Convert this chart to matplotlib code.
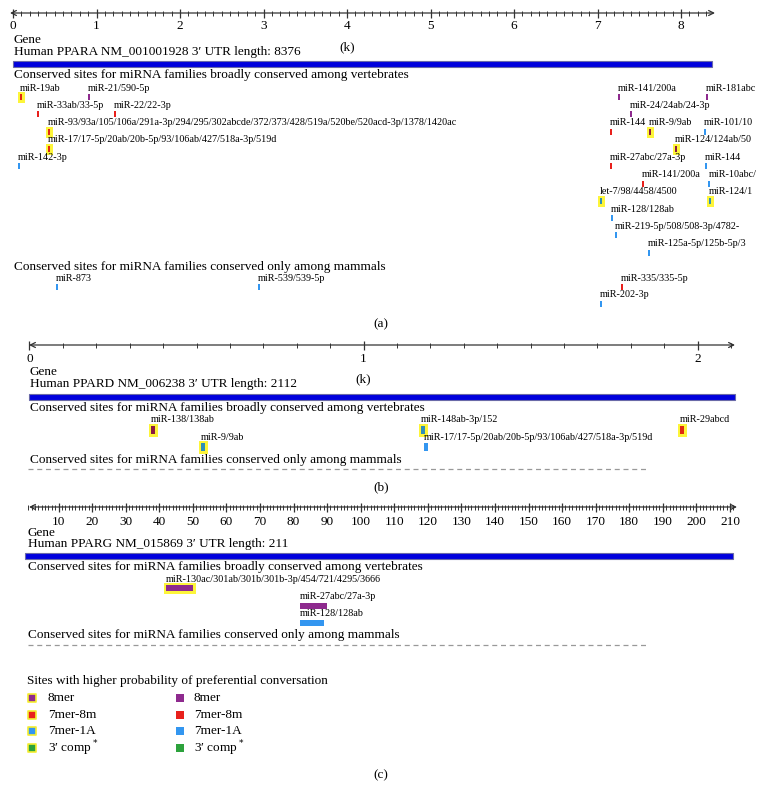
import matplotlib.pyplot as plt
import numpy as np

plt.rcParams['font.family'] = ['Liberation Serif', 'DejaVu Serif']

W, H = 763, 789

# site type colours (plain / inside the yellow "higher probability" box)
type_colors = {'8mer': '#8e2a8e', '7mer-8m': '#e8201c', '7mer-1A': '#3396f0', "3' comp": '#2ca23c'}
hi_colors = {'8mer': '#8b1a40', '7mer-8m': '#e02a10', '7mer-1A': '#2f8fb8', "3' comp": '#2ca23c'}

# ---- (a) PPARA, site positions in kb ----
a_names = ['miR-19ab', 'miR-21/590-5p', 'miR-33ab/33-5p', 'miR-22/22-3p',
           'miR-93/93a/105/106a/291a-3p/294/295/302abcde/372/373/428/519a/520be/520acd-3p/1378/1420ac',
           'miR-17/17-5p/20ab/20b-5p/93/106ab/427/518a-3p/519d', 'miR-142-3p',
           'miR-141/200a', 'miR-181abc', 'miR-24/24ab/24-3p', 'miR-144', 'miR-9/9ab', 'miR-101/10',
           'miR-124/124ab/50', 'miR-27abc/27a-3p', 'miR-144', 'miR-141/200a', 'miR-10abc/',
           'let-7/98/4458/4500', 'miR-124/1', 'miR-128/128ab', 'miR-219-5p/508/508-3p/4782-',
           'miR-125a-5p/125b-5p/3']
a_pos = [0.10, 0.91, 0.30, 1.22, 0.43, 0.43, 0.07,
         7.26, 8.31, 7.40, 7.16, 7.63, 8.29, 7.94, 7.16, 8.30, 7.54, 8.34,
         7.04, 8.35, 7.17, 7.22, 7.62]
a_row = [0, 0, 1, 1, 2, 3, 4,
         0, 0, 1, 2, 2, 2, 3, 4, 4, 5, 5, 6, 6, 7, 8, 9]
a_type = ['7mer-8m', '8mer', '7mer-8m', '7mer-8m', '7mer-8m', '7mer-8m', '7mer-1A',
          '8mer', '8mer', '8mer', '7mer-8m', '8mer', '7mer-1A', '8mer', '7mer-8m', '7mer-1A',
          '7mer-8m', '7mer-1A', '7mer-1A', '7mer-1A', '7mer-1A', '7mer-1A', '7mer-1A']
a_high = [1, 0, 0, 0, 1, 1, 0,
          0, 0, 0, 0, 1, 0, 1, 0, 0, 0, 0, 1, 1, 0, 0, 0]

a_mam_names = ['miR-873', 'miR-539/539-5p', 'miR-335/335-5p', 'miR-202-3p']
a_mam_pos = [0.53, 2.95, 7.29, 7.04]
a_mam_row = [0, 0, 0, 1]
a_mam_type = ['7mer-1A', '7mer-1A', '7mer-8m', '7mer-1A']
a_mam_high = [0, 0, 0, 0]

# ---- (b) PPARD, kb ----
b_names = ['miR-138/138ab', 'miR-9/9ab', 'miR-148ab-3p/152',
           'miR-17/17-5p/20ab/20b-5p/93/106ab/427/518a-3p/519d', 'miR-29abcd']
b_pos = [0.370, 0.519, 1.178, 1.187, 1.954]
b_row = [0, 1, 0, 1, 0]
b_type = ['8mer', '7mer-1A', '7mer-1A', '7mer-1A', '7mer-8m']
b_high = [1, 1, 1, 0, 1]

# ---- (c) PPARG, nt ----
c_names = ['miR-130ac/301ab/301b/301b-3p/454/721/4295/3666', 'miR-27abc/27a-3p', 'miR-128/128ab']
c_start = [42, 82, 82]
c_end = [50, 90, 89]
c_row = [0, 1, 2]
c_type = ['8mer', '8mer', '7mer-1A']
c_high = [1, 0, 0]

legend_types = ['8mer', '7mer-8m', '7mer-1A', "3' comp"]
legend_labels = ['8mer', '7mer-8m', '7mer-1A', '3\u2032 comp$^*$']

fig = plt.figure(figsize=(W / 100, H / 100), dpi=100)
page = fig.add_axes([0, 0, 1, 1])
page.set_xlim(0, W)
page.set_ylim(H, 0)
page.axis('off')

BIG = 9.5
SMALL = 7.3


def panel_axes(x0, ppu):
    ax = fig.add_axes([0, 0, 1, 1])
    ax.set_xlim(-x0 / ppu, (W - x0) / ppu)
    ax.set_ylim(H, 0)
    ax.axis('off')
    ax.patch.set_alpha(0)
    return ax


def ruler(ax, x0, ppu, y, left_px, right_px, minor, major, labels, lab_y):
    ax.annotate('', xy=((right_px - x0) / ppu, y), xytext=((left_px - x0) / ppu, y),
                arrowprops=dict(arrowstyle='<->', lw=0.9, color='#333333',
                                shrinkA=0, shrinkB=0, mutation_scale=9))
    ax.vlines(minor, y - 2.5, y + 2.5, color='#333333', lw=0.7)
    ax.vlines(major, y - 4.5, y + 4.5, color='#333333', lw=0.9)
    for m, l in zip(major, labels):
        ax.text(m, lab_y, l, ha='center', va='center', fontsize=BIG)


def sites(ax, names, starts, widths, rows, types, highs, y0, dy, h, use_hi=True):
    for n, s, w, r, t, hi in zip(names, starts, widths, rows, types, highs):
        y = y0 + dy * r
        col = type_colors[t]
        if hi:
            ax.bar(s, h, width=w, bottom=y - h / 2, align='edge', color='#fdf53a',
                   edgecolor='#fdf53a', lw=3.6, zorder=2)
            if use_hi:
                col = hi_colors[t]
        ax.bar(s, h, width=w, bottom=y - h / 2, align='edge', color=col, lw=0, zorder=3)
        ax.text(s, y - h / 2 - 1.5, n, fontsize=SMALL, ha='left', va='bottom', zorder=4)


def header(ax, length, x_px, gene_y, title, bar_y, vert_y, mam_y):
    page.text(x_px, gene_y, 'Gene', fontsize=BIG, va='center')
    page.text(x_px, gene_y + 11.5, title, fontsize=BIG, va='center')
    ax.barh(bar_y, length, height=6, left=0, color='#0000dd', edgecolor='#6a6aa8', lw=0.8)
    page.text(x_px, vert_y, 'Conserved sites for miRNA families broadly conserved among vertebrates',
              fontsize=BIG, va='center')
    page.text(x_px, mam_y, 'Conserved sites for miRNA families conserved only among mammals',
              fontsize=BIG, va='center')


# ---------- (a) ----------
ax = panel_axes(13, 83.5)
ruler(ax, 13, 83.5, 13, 10, 715, np.arange(0, 8.35, 0.1), np.arange(0, 9),
      [str(i) for i in range(9)], 26)
ax.text(4, 47, '(k)', ha='center', va='center', fontsize=BIG)
header(ax, 8.376, 14, 40, 'Human PPARA NM_001001928 3\u2032 UTR length: 8376', 64, 75, 267)
sites(ax, a_names, np.array(a_pos) - 0.0125, [0.025] * len(a_pos), a_row, a_type, a_high,
      97, 17.3, 6)
sites(ax, a_mam_names, np.array(a_mam_pos) - 0.0125, [0.025] * len(a_mam_pos), a_mam_row,
      a_mam_type, a_mam_high, 287, 16.5, 6)
page.text(381, 324, '(a)', ha='center', va='center', fontsize=BIG)

# ---------- (b) ----------
ax = panel_axes(29.5, 334)
ruler(ax, 29.5, 334, 345, 29, 735, np.arange(0, 2.11, 0.1), np.arange(0, 3),
      ['0', '1', '2'], 359)
ax.text(1, 379, '(k)', ha='center', va='center', fontsize=BIG)
header(ax, 2.112, 30, 372, 'Human PPARD NM_006238 3\u2032 UTR length: 2112', 397, 408, 460)
sites(ax, b_names, np.array(b_pos) - 0.007, [0.014] * len(b_pos), b_row, b_type, b_high,
      429.5, 17.5, 8)
page.plot([28, 646], [469, 469], ls=(0, (4, 3)), color='#999999', lw=0.9)
page.text(381, 487, '(b)', ha='center', va='center', fontsize=BIG)

# ---------- (c) ----------
ax = panel_axes(25, 3.357)
ruler(ax, 25, 3.357, 507, 29, 737, np.arange(1, 212, 1), np.arange(10, 211, 10),
      [str(i) for i in range(10, 211, 10)], 522)
header(ax, 211, 28, 533, 'Human PPARG NM_015869 3\u2032 UTR length: 211', 555.5, 567, 635)
sites(ax, c_names, c_start, np.array(c_end) - np.array(c_start), c_row, c_type, c_high,
      588, 17.5, 6, use_hi=False)
page.plot([28, 646], [645, 645], ls=(0, (4, 3)), color='#999999', lw=0.9)

# ---------- legend ----------
page.text(27, 681, 'Sites with higher probability of preferential conversation', fontsize=BIG,
          va='center')
for i, (t, lab) in enumerate(zip(legend_types, legend_labels)):
    y = 698 + 16.7 * i
    page.scatter(32, y, s=38, marker='s', color=type_colors[t], edgecolors='#f5ee30',
                 linewidths=1.2, zorder=3)
    page.text(48, y, lab, fontsize=BIG, va='center')
    page.scatter(180, y, s=38, marker='s', color=type_colors[t], lw=0, zorder=3)
    page.text(194, y, lab, fontsize=BIG, va='center')
page.text(381, 775, '(c)', ha='center', va='center', fontsize=BIG)

fig.savefig('out.png', dpi=100)
